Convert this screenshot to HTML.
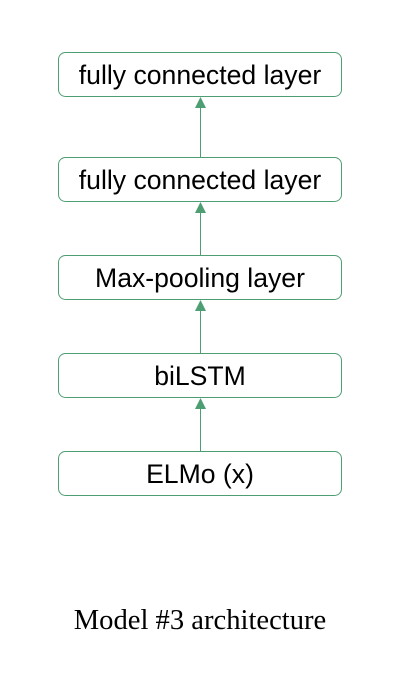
<!DOCTYPE html>
<html><head><style>
body{margin:0;width:410px;height:680px;background:#fff;overflow:hidden}
</style></head><body>
<svg width="410" height="680" xmlns="http://www.w3.org/2000/svg">
<g fill="none" stroke="#4d9e73" stroke-width="1">
<rect x="58.5" y="52.5" width="283" height="44" rx="7"/>
<rect x="58.5" y="157.5" width="283" height="44" rx="7"/>
<rect x="58.5" y="255.5" width="283" height="44" rx="7"/>
<rect x="58.5" y="353.5" width="283" height="44" rx="7"/>
<rect x="58.5" y="451.5" width="283" height="44" rx="7"/>
<line x1="200.5" y1="157" x2="200.5" y2="105"/>
<line x1="200.5" y1="255" x2="200.5" y2="210"/>
<line x1="200.5" y1="353" x2="200.5" y2="308"/>
<line x1="200.5" y1="451" x2="200.5" y2="406"/>
</g>
<g fill="#4d9e73">
<polygon points="200.5,97 195,108 206,108"/>
<polygon points="200.5,202 195,213 206,213"/>
<polygon points="200.5,300 195,311 206,311"/>
<polygon points="200.5,398 195,409 206,409"/>
</g>
<g font-family="Liberation Sans, Arial, sans-serif" font-size="26.6" text-anchor="middle" fill="#000">
<text x="200" y="84">fully connected layer</text>
<text x="200" y="189">fully connected layer</text>
<text x="200" y="287">Max-pooling layer</text>
<text x="200" y="385">biLSTM</text>
<text x="200" y="483">ELMo (x)</text>
</g>
<text x="200" y="629" font-family="Liberation Serif, Times New Roman, serif" font-size="28.6" text-anchor="middle" fill="#000">Model #3 architecture</text>
</svg>
</body></html>
